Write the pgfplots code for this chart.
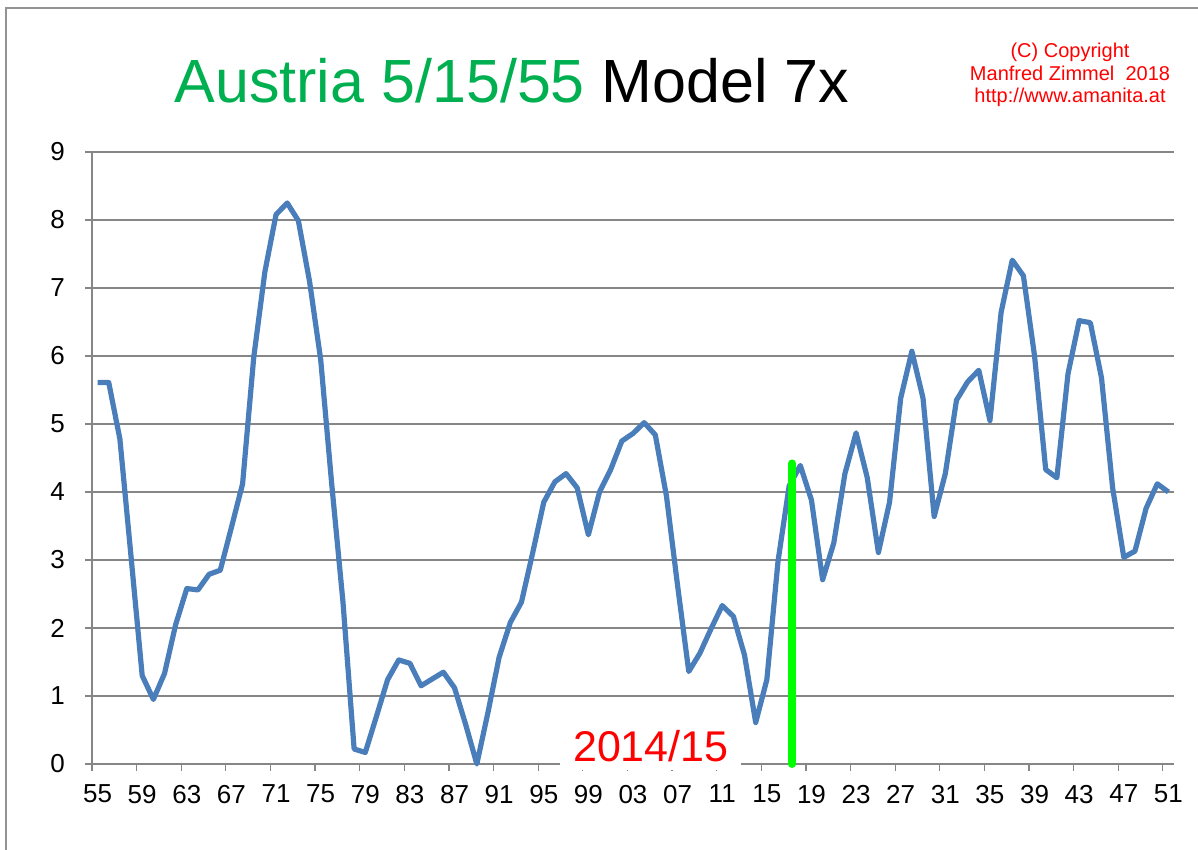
\documentclass[border=0pt]{standalone}
\usepackage{fontspec}
\setmainfont{Liberation Sans}
\usepackage{pgfplots}
\usepackage{pgfplotstable}
\pgfplotsset{compat=1.18}
\definecolor{excelblue}{RGB}{74,126,187}
\definecolor{gridgray}{RGB}{134,134,134}
\definecolor{titlegreen}{RGB}{0,176,80}
\definecolor{markgreen}{RGB}{0,255,0}
\definecolor{copyred}{RGB}{255,0,0}

% model index per year, 1955-2051
\pgfplotstableread{
year value
1955 5.61
1956 5.61
1957 4.78
1958 3.05
1959 1.30
1960 0.95
1961 1.33
1962 2.05
1963 2.58
1964 2.56
1965 2.79
1966 2.85
1967 3.48
1968 4.12
1969 5.98
1970 7.24
1971 8.08
1972 8.25
1973 7.99
1974 7.10
1975 5.95
1976 4.10
1977 2.38
1978 0.22
1979 0.17
1980 0.70
1981 1.24
1982 1.53
1983 1.48
1984 1.15
1985 1.25
1986 1.35
1987 1.12
1988 0.58
1989 0.00
1990 0.76
1991 1.57
1992 2.08
1993 2.38
1994 3.10
1995 3.85
1996 4.15
1997 4.27
1998 4.06
1999 3.37
2000 4.00
2001 4.33
2002 4.75
2003 4.86
2004 5.02
2005 4.84
2006 3.94
2007 2.62
2008 1.36
2009 1.63
2010 1.99
2011 2.33
2012 2.17
2013 1.60
2014 0.61
2015 1.24
2016 2.98
2017 4.09
2018 4.39
2019 3.88
2020 2.71
2021 3.25
2022 4.27
2023 4.87
2024 4.21
2025 3.11
2026 3.85
2027 5.38
2028 6.07
2029 5.38
2030 3.64
2031 4.27
2032 5.35
2033 5.62
2034 5.79
2035 5.05
2036 6.64
2037 7.41
2038 7.18
2039 6.00
2040 4.33
2041 4.21
2042 5.74
2043 6.52
2044 6.49
2045 5.68
2046 4.06
2047 3.04
2048 3.13
2049 3.76
2050 4.12
2051 4.00
}\austria

\begin{document}
\begin{tikzpicture}
\path[use as bounding box] (0,0) rectangle (599pt,425pt);
\draw[gray!85, line width=1pt] (2.85pt,0) -- (2.85pt,421.2pt) -- (599pt,421.2pt);

\begin{axis}[
  at={(46pt,43pt)}, anchor=south west,
  width=541pt, height=306pt, scale only axis,
  xmin=1954.5, xmax=2051.5,
  ymin=0, ymax=9,
  ytick={0,1,...,9},
  % tick marks sit between the categories, labels on every fourth year
  xtick={1954.5,1958.5,...,2050.5},
  xticklabels={},
  extra x ticks={1955,1959,...,2051},
  extra x tick labels={55,59,63,67,71,75,79,83,87,91,95,99,03,07,11,15,19,23,27,31,35,39,43,47,51},
  extra x tick style={major tick length=0pt, xticklabel style={yshift=-7pt}},
  axis lines*=left,
  axis line style={gridgray, line width=0.6pt},
  tick align=outside,
  major tick length=3.5pt,
  tick style={gridgray, line width=0.6pt},
  ymajorgrids,
  grid style={gridgray, line width=0.6pt},
  /pgf/number format/assume math mode=true,
  ticklabel style={font=\fontsize{13}{15}\selectfont},
  yticklabel style={xshift=-6.5pt},
  clip=false,
]
\addplot[excelblue, line width=2.6pt, line join=round] table[x=year, y=value] {\austria};
\addplot[markgreen, line width=4pt, line cap=round] coordinates {(2017.28,0) (2017.28,4.42)};
\coordinate (bA) at (axis cs:1996.5,-0.09);
\coordinate (bB) at (axis cs:2012.65,0.6);
\coordinate (lbl) at (axis cs:2004.6,0.03);
\end{axis}

\fill[white] (bA) rectangle (bB);
\node[anchor=base, text=copyred, inner sep=0pt, font=\fontsize{21.5}{24}\selectfont] at (lbl) {2014/15};

\node[anchor=base, inner sep=0pt, font=\fontsize{30.5}{36}\selectfont] at (256pt,373.5pt)
  {\textcolor{titlegreen}{Austria 5/15/55} Model 7x};

\begin{scope}[every node/.style={anchor=base, inner sep=0pt, text=copyred, font=\fontsize{10}{12}\selectfont}]
\node at (535pt,396.05pt) {(C) Copyright};
\node at (535pt,384.85pt) {Manfred Zimmel~~2018};
\node at (535pt,373.5pt) {http://www.amanita.at};
\end{scope}
\end{tikzpicture}
\end{document}
